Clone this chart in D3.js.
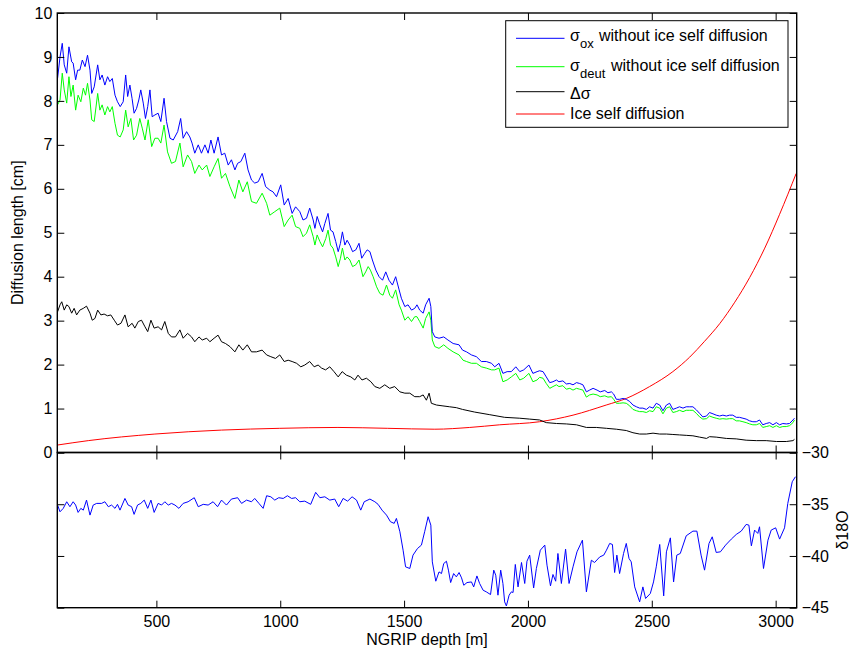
<!DOCTYPE html>
<html>
<head>
<meta charset="utf-8">
<script src="https://cdn.jsdelivr.net/npm/d3@7"></script>
<style>
  body { margin: 0; background: #fff; }
  svg text { font-family: "Liberation Sans", Arial, sans-serif; fill: #000; }
</style>
</head>
<body>
<div id="chart"></div>
<script>
// depth [m], value
const sigmaOx = [[101,8.51],[111,9.00],[120,9.31],[128,8.82],[138,8.63],[147,9.23],[158,8.89],[164,8.86],[174,8.48],[182,8.70],[191,8.70],[201,8.93],[212,8.78],[222,9.04],[232,8.70],[239,8.17],[249,8.32],[263,8.82],[272,8.48],[281,8.59],[292,8.36],[303,8.55],[312,8.44],[322,8.51],[333,8.13],[343,7.98],[354,7.87],[366,7.98],[376,8.59],[384,8.10],[393,8.36],[402,8.05],[410,7.72],[420,7.83],[429,8.02],[437,8.25],[447,7.95],[456,7.60],[465,7.87],[474,8.25],[483,7.64],[494,7.68],[507,7.72],[518,7.53],[531,8.06],[541,7.53],[555,7.15],[568,7.11],[586,7.30],[598,7.60],[608,7.15],[622,7.30],[635,7.18],[644,7.04],[655,6.81],[669,7.00],[682,6.81],[696,7.00],[709,6.81],[720,7.11],[733,6.81],[749,7.18],[763,6.77],[776,6.81],[790,6.54],[803,6.66],[817,6.43],[828,6.58],[841,6.62],[857,6.81],[870,6.43],[884,6.20],[897,6.13],[911,6.16],[927,6.35],[941,6.05],[958,5.97],[971,5.93],[985,5.82],[1002,6.09],[1016,5.63],[1032,5.78],[1048,5.44],[1062,5.59],[1079,5.48],[1092,5.29],[1106,5.33],[1119,5.56],[1133,5.29],[1140,5.10],[1149,5.37],[1160,5.18],[1171,5.02],[1180,5.21],[1193,5.44],[1203,5.06],[1213,5.02],[1224,4.80],[1234,4.57],[1243,4.76],[1251,5.02],[1261,4.72],[1270,4.83],[1281,4.72],[1292,4.57],[1305,4.61],[1318,4.76],[1329,4.42],[1341,4.53],[1351,4.61],[1362,4.57],[1372,4.38],[1386,4.15],[1399,4.00],[1413,3.92],[1426,4.11],[1439,3.92],[1453,3.81],[1466,4.00],[1480,3.70],[1489,3.51],[1503,3.32],[1516,3.36],[1530,3.24],[1543,3.28],[1552,3.36],[1563,3.24],[1577,3.17],[1587,3.36],[1601,3.51],[1608,3.32],[1614,2.75],[1624,2.63],[1641,2.60],[1660,2.63],[1677,2.56],[1698,2.48],[1722,2.45],[1736,2.33],[1752,2.29],[1772,2.22],[1792,2.18],[1812,2.07],[1832,2.07],[1853,2.03],[1866,1.95],[1883,2.03],[1899,1.80],[1916,1.84],[1933,1.84],[1951,1.95],[1967,1.84],[1983,1.88],[2004,1.99],[2020,1.80],[2037,1.84],[2047,1.86],[2061,1.84],[2074,1.72],[2088,1.59],[2101,1.61],[2115,1.65],[2125,1.61],[2141,1.63],[2155,1.56],[2169,1.57],[2182,1.54],[2196,1.59],[2209,1.57],[2222,1.54],[2236,1.38],[2249,1.42],[2263,1.46],[2279,1.42],[2292,1.38],[2310,1.41],[2323,1.36],[2337,1.38],[2346,1.33],[2357,1.21],[2370,1.21],[2384,1.23],[2397,1.21],[2411,1.16],[2424,1.08],[2438,1.04],[2451,1.01],[2464,1.01],[2478,0.98],[2491,1.04],[2505,1.01],[2518,1.12],[2532,1.08],[2545,0.95],[2559,1.08],[2572,1.12],[2585,0.98],[2599,1.01],[2612,1.04],[2626,1.01],[2639,1.04],[2653,1.04],[2666,1.04],[2680,0.97],[2693,0.89],[2706,0.81],[2721,0.83],[2733,0.91],[2747,0.88],[2760,0.85],[2774,0.83],[2787,0.85],[2801,0.83],[2814,0.85],[2827,0.85],[2841,0.80],[2854,0.80],[2868,0.78],[2881,0.76],[2895,0.72],[2908,0.70],[2922,0.70],[2935,0.74],[2948,0.63],[2962,0.66],[2976,0.68],[2989,0.63],[3003,0.68],[3016,0.63],[3029,0.66],[3043,0.65],[3056,0.66],[3070,0.74],[3076,0.78]];

const sigmaDeut = [[101,7.91],[111,8.02],[120,8.63],[128,8.25],[138,7.95],[147,8.55],[155,8.10],[164,8.36],[174,7.79],[184,8.13],[195,7.98],[205,8.29],[214,8.13],[222,8.40],[232,8.02],[239,7.57],[249,7.53],[263,8.17],[272,7.79],[281,7.91],[292,7.68],[303,7.87],[312,7.75],[322,7.87],[333,7.49],[343,7.22],[354,7.18],[366,7.34],[376,7.79],[386,7.41],[397,7.60],[408,7.11],[420,7.22],[433,7.60],[443,7.38],[454,7.11],[467,7.57],[481,6.96],[494,7.15],[507,7.15],[518,7.04],[531,7.45],[545,6.84],[561,6.58],[577,6.62],[595,7.04],[608,6.50],[626,6.77],[642,6.62],[655,6.35],[672,6.54],[685,6.43],[703,6.54],[716,6.28],[733,6.50],[749,6.69],[763,6.24],[779,6.35],[797,6.05],[817,5.78],[833,6.20],[849,5.93],[867,6.16],[884,5.71],[904,5.67],[927,5.90],[945,5.67],[958,5.40],[978,5.48],[998,5.56],[1016,5.14],[1032,5.29],[1048,5.40],[1062,5.14],[1079,5.10],[1092,4.91],[1106,4.99],[1119,5.18],[1133,4.91],[1140,4.72],[1149,4.95],[1160,4.80],[1171,4.68],[1184,4.87],[1193,5.06],[1203,4.72],[1213,4.65],[1224,4.45],[1234,4.23],[1243,4.42],[1251,4.65],[1261,4.38],[1270,4.45],[1281,4.38],[1292,4.23],[1305,4.27],[1318,4.38],[1334,4.00],[1345,4.11],[1355,4.23],[1364,4.15],[1375,4.00],[1389,3.77],[1402,3.62],[1415,3.58],[1429,3.81],[1442,3.58],[1453,3.51],[1466,3.70],[1480,3.36],[1489,3.24],[1503,3.01],[1516,3.09],[1530,2.98],[1543,3.09],[1552,3.09],[1563,2.98],[1577,2.83],[1587,3.05],[1601,3.20],[1608,3.01],[1614,2.56],[1624,2.41],[1641,2.37],[1660,2.45],[1677,2.37],[1698,2.29],[1722,2.22],[1738,2.10],[1752,2.07],[1772,2.03],[1792,2.03],[1812,1.95],[1832,1.92],[1853,1.88],[1866,1.88],[1883,1.92],[1899,1.61],[1916,1.65],[1933,1.72],[1951,1.80],[1967,1.65],[1983,1.69],[2004,1.80],[2020,1.61],[2037,1.65],[2047,1.71],[2061,1.69],[2074,1.57],[2088,1.46],[2101,1.50],[2115,1.54],[2125,1.50],[2141,1.52],[2155,1.44],[2169,1.46],[2182,1.42],[2196,1.46],[2209,1.44],[2222,1.42],[2236,1.26],[2249,1.31],[2263,1.33],[2279,1.31],[2292,1.27],[2310,1.29],[2323,1.26],[2337,1.27],[2346,1.21],[2357,1.12],[2370,1.12],[2384,1.13],[2397,1.12],[2411,1.06],[2424,0.98],[2438,0.95],[2451,0.93],[2464,0.93],[2478,0.91],[2491,0.95],[2505,0.93],[2518,1.04],[2532,1.01],[2545,0.88],[2559,1.01],[2572,1.04],[2585,0.91],[2599,0.93],[2612,0.96],[2626,0.93],[2639,0.96],[2653,0.96],[2666,0.96],[2680,0.89],[2693,0.81],[2706,0.76],[2721,0.77],[2733,0.83],[2747,0.80],[2760,0.78],[2774,0.76],[2787,0.77],[2801,0.76],[2814,0.77],[2827,0.77],[2841,0.72],[2854,0.72],[2868,0.70],[2881,0.68],[2895,0.65],[2908,0.63],[2922,0.63],[2935,0.66],[2948,0.57],[2962,0.59],[2976,0.61],[2989,0.57],[3003,0.61],[3016,0.57],[3029,0.59],[3043,0.59],[3056,0.61],[3070,0.68],[3076,0.74]];

const deltaSigma = [[101,3.20],[111,3.36],[118,3.43],[128,3.24],[138,3.36],[147,3.32],[158,3.17],[168,3.28],[178,3.13],[191,3.24],[205,3.28],[218,3.33],[232,3.17],[241,3.01],[252,3.05],[263,3.24],[276,3.13],[289,3.15],[303,3.11],[316,3.13],[330,3.01],[343,2.90],[357,2.94],[373,3.13],[386,2.86],[402,2.94],[413,2.83],[427,2.98],[440,3.01],[454,2.86],[465,2.75],[478,3.01],[491,2.83],[507,2.86],[521,2.79],[534,2.98],[548,2.71],[561,2.63],[577,2.63],[595,2.79],[608,2.60],[626,2.71],[642,2.63],[655,2.52],[672,2.63],[685,2.56],[703,2.60],[716,2.52],[733,2.60],[749,2.67],[763,2.52],[779,2.48],[797,2.41],[817,2.29],[833,2.45],[849,2.33],[867,2.45],[884,2.29],[904,2.29],[927,2.33],[945,2.22],[962,2.18],[981,2.14],[998,2.22],[1016,2.07],[1032,2.10],[1048,2.07],[1066,2.03],[1083,1.95],[1099,1.99],[1119,2.07],[1137,1.95],[1153,1.99],[1167,1.92],[1183,1.88],[1200,1.95],[1217,1.84],[1234,1.72],[1250,1.84],[1267,1.76],[1285,1.72],[1301,1.65],[1314,1.76],[1330,1.65],[1348,1.69],[1366,1.61],[1382,1.50],[1402,1.46],[1422,1.54],[1442,1.46],[1462,1.50],[1483,1.38],[1503,1.35],[1523,1.35],[1543,1.27],[1563,1.27],[1577,1.31],[1590,1.19],[1601,1.35],[1610,1.12],[1631,1.08],[1657,1.06],[1684,1.04],[1711,1.02],[1736,0.98],[1785,0.92],[1846,0.86],[1906,0.80],[1967,0.78],[2007,0.76],[2047,0.74],[2074,0.68],[2115,0.66],[2155,0.65],[2196,0.63],[2236,0.57],[2276,0.57],[2317,0.55],[2357,0.53],[2397,0.50],[2424,0.45],[2451,0.42],[2478,0.42],[2505,0.44],[2532,0.42],[2559,0.42],[2585,0.41],[2612,0.40],[2639,0.39],[2666,0.38],[2693,0.35],[2721,0.32],[2733,0.36],[2760,0.35],[2801,0.32],[2841,0.31],[2881,0.28],[2922,0.27],[2962,0.27],[3003,0.25],[3043,0.25],[3070,0.27],[3076,0.30]];

const iceSelf = [[101,0.17],[225,0.27],[494,0.42],[763,0.51],[998,0.55],[1233,0.57],[1434,0.55],[1624,0.53],[1765,0.57],[1886,0.63],[2047,0.70],[2182,0.85],[2316,1.08],[2397,1.23],[2491,1.50],[2585,1.84],[2653,2.17],[2713,2.53],[2774,2.93],[2835,3.42],[2895,3.98],[2956,4.65],[3016,5.42],[3083,6.35]];

const d18O = [[101,-35.08],[111,-35.73],[124,-35.40],[138,-34.76],[151,-35.24],[164,-34.76],[174,-35.08],[184,-35.79],[195,-35.40],[205,-35.57],[218,-34.60],[232,-36.05],[245,-35.08],[259,-34.92],[279,-34.92],[292,-34.76],[306,-35.24],[319,-35.08],[333,-35.40],[343,-35.01],[353,-35.57],[373,-34.44],[386,-35.08],[400,-35.24],[410,-35.98],[424,-35.08],[437,-34.92],[451,-34.60],[465,-35.40],[478,-34.60],[491,-35.79],[507,-34.92],[521,-35.08],[534,-34.76],[548,-35.08],[561,-34.92],[575,-35.08],[591,-35.40],[608,-34.92],[628,-34.76],[653,-34.37],[669,-35.24],[689,-35.01],[709,-35.08],[729,-34.76],[747,-35.24],[763,-34.60],[783,-35.08],[803,-34.50],[828,-34.37],[844,-34.92],[864,-34.60],[884,-34.76],[897,-34.44],[914,-34.92],[931,-35.40],[945,-34.18],[962,-34.28],[978,-34.60],[994,-34.37],[1012,-34.44],[1029,-34.18],[1046,-34.44],[1062,-34.37],[1079,-34.76],[1099,-34.70],[1123,-35.01],[1143,-33.85],[1160,-34.37],[1180,-34.28],[1200,-34.60],[1220,-34.50],[1236,-35.24],[1254,-34.44],[1272,-34.70],[1290,-34.28],[1308,-34.60],[1325,-35.57],[1339,-34.76],[1362,-34.50],[1382,-34.76],[1395,-35.01],[1411,-35.57],[1429,-36.05],[1445,-36.69],[1460,-36.85],[1469,-36.37],[1483,-37.66],[1496,-39.44],[1506,-41.05],[1523,-41.21],[1536,-39.92],[1554,-39.28],[1570,-38.95],[1583,-37.66],[1597,-36.21],[1608,-37.02],[1614,-40.57],[1628,-42.44],[1641,-41.54],[1651,-41.70],[1660,-40.73],[1671,-40.51],[1679,-41.37],[1688,-42.57],[1700,-41.70],[1711,-42.02],[1722,-41.60],[1732,-42.12],[1741,-42.83],[1754,-42.57],[1772,-42.51],[1781,-42.99],[1794,-41.93],[1805,-42.66],[1819,-43.31],[1832,-43.47],[1849,-43.73],[1862,-41.37],[1870,-41.86],[1879,-43.79],[1890,-41.37],[1899,-42.66],[1906,-44.44],[1913,-44.83],[1924,-43.79],[1933,-43.47],[1940,-43.53],[1949,-40.82],[1960,-42.99],[1974,-40.63],[1987,-42.66],[1996,-40.51],[2007,-39.92],[2023,-43.09],[2034,-41.21],[2050,-39.44],[2068,-38.95],[2077,-40.89],[2091,-42.89],[2101,-41.79],[2112,-42.44],[2121,-39.76],[2135,-42.66],[2152,-39.34],[2166,-42.66],[2182,-41.05],[2198,-39.60],[2220,-38.47],[2236,-43.47],[2256,-40.41],[2269,-40.63],[2290,-40.09],[2306,-39.92],[2317,-39.44],[2330,-38.79],[2341,-38.89],[2350,-41.60],[2359,-39.92],[2370,-41.70],[2386,-39.76],[2397,-38.79],[2408,-40.24],[2417,-40.57],[2431,-42.99],[2451,-44.44],[2464,-42.99],[2475,-44.11],[2494,-43.63],[2507,-42.51],[2518,-41.05],[2532,-38.89],[2548,-43.86],[2559,-39.60],[2575,-38.25],[2588,-42.51],[2601,-39.92],[2615,-39.76],[2639,-38.05],[2666,-37.60],[2682,-37.60],[2699,-39.92],[2713,-41.37],[2731,-38.79],[2744,-38.15],[2760,-39.66],[2777,-39.60],[2798,-38.95],[2821,-38.37],[2841,-37.92],[2861,-37.60],[2881,-36.95],[2892,-37.02],[2902,-39.02],[2915,-37.50],[2928,-37.82],[2935,-37.18],[2951,-41.21],[2969,-38.47],[2982,-37.50],[3000,-37.28],[3016,-38.37],[3036,-37.28],[3049,-34.92],[3067,-32.83],[3080,-32.34]];

const depthTicks = [500, 1000, 1500, 2000, 2500, 3000];
const sigmaTicks = [0, 1, 2, 3, 4, 5, 6, 7, 8, 9, 10];
const d18OTicks = [-45, -40, -35, -30];

const legendItems = [
  { color: "#0000ff", sym: "σ", sub: "ox", text: "without ice self diffusion" },
  { color: "#00ff00", sym: "σ", sub: "deut", text: "without ice self diffusion" },
  { color: "#000000", sym: "Δσ", sub: "", text: "" },
  { color: "#ff0000", sym: "Ice self diffusion", sub: "", text: "" }
];

let w = 853;
let h = 655;
let left = 57.3, right = 796.7;
let topY = 13, midY = 452.5, botY = 607.7;
let fmt = d3.format("d");

let svg = d3.select("#chart").append("svg")
  .attr("width", w)
  .attr("height", h);

svg.append("rect").attr("width", w).attr("height", h).attr("fill", "#fff");

let x = d3.scaleLinear().domain([100, 3085]).range([left, right]);
let yTop = d3.scaleLinear().domain([0, 10]).range([midY, topY]);
let yBot = d3.scaleLinear().domain([-45, -30]).range([botY, midY]);

let defs = svg.append("defs");
defs.append("clipPath").attr("id", "clipTop").append("rect")
  .attr("x", left).attr("y", topY).attr("width", right - left).attr("height", midY - topY);
defs.append("clipPath").attr("id", "clipBot").append("rect")
  .attr("x", left).attr("y", midY).attr("width", right - left).attr("height", botY - midY);

let lineTop = d3.line().x(d => x(d[0])).y(d => yTop(d[1]));
let lineBot = d3.line().x(d => x(d[0])).y(d => yBot(d[1]));

let gTop = svg.append("g").attr("clip-path", "url(#clipTop)");
gTop.append("path").datum(iceSelf)
  .attr("d", lineTop.curve(d3.curveMonotoneX)).attr("fill", "none").attr("stroke", "#ff0000").attr("stroke-width", 1);
lineTop.curve(d3.curveLinear);
gTop.append("path").datum(deltaSigma)
  .attr("d", lineTop).attr("fill", "none").attr("stroke", "#000").attr("stroke-width", 1);
gTop.append("path").datum(sigmaDeut)
  .attr("d", lineTop).attr("fill", "none").attr("stroke", "#00ff00").attr("stroke-width", 1);
gTop.append("path").datum(sigmaOx)
  .attr("d", lineTop).attr("fill", "none").attr("stroke", "#0000ff").attr("stroke-width", 1);

svg.append("g").attr("clip-path", "url(#clipBot)")
  .append("path").datum(d18O)
  .attr("d", lineBot).attr("fill", "none").attr("stroke", "#0000ff").attr("stroke-width", 1);

function styleAxis(g) {
  g.select(".domain").remove();
  g.selectAll(".tick line").attr("stroke", "#000").attr("stroke-width", 1);
  g.selectAll(".tick text").attr("font-size", 16).attr("font-family", "Liberation Sans, Arial, sans-serif");
}

// top panel axes
svg.append("g").attr("transform", `translate(${left},0)`)
  .call(d3.axisLeft(yTop).tickValues(sigmaTicks).tickFormat(fmt).tickSizeInner(-7).tickSizeOuter(0).tickPadding(5))
  .call(styleAxis);
svg.append("g").attr("transform", `translate(${right},0)`)
  .call(d3.axisRight(yTop).tickValues(sigmaTicks).tickSizeInner(-7).tickSizeOuter(0).tickFormat(""))
  .call(styleAxis);
svg.append("g").attr("transform", `translate(0,${topY})`)
  .call(d3.axisTop(x).tickValues(depthTicks).tickSizeInner(-7).tickSizeOuter(0).tickFormat(""))
  .call(styleAxis);
svg.append("g").attr("transform", `translate(0,${midY})`)
  .call(d3.axisBottom(x).tickValues(depthTicks).tickSizeInner(-7).tickSizeOuter(0).tickFormat(""))
  .call(styleAxis);

// bottom panel axes
svg.append("g").attr("transform", `translate(0,${midY})`)
  .call(d3.axisTop(x).tickValues(depthTicks).tickSizeInner(-7).tickSizeOuter(0).tickFormat(""))
  .call(styleAxis);
svg.append("g").attr("transform", `translate(0,${botY})`)
  .call(d3.axisBottom(x).tickValues(depthTicks).tickFormat(fmt).tickSizeInner(-7).tickSizeOuter(0).tickPadding(8))
  .call(styleAxis);
svg.append("g").attr("transform", `translate(${left},0)`)
  .call(d3.axisLeft(yBot).tickValues(d18OTicks).tickSizeInner(-7).tickSizeOuter(0).tickFormat(""))
  .call(styleAxis);
svg.append("g").attr("transform", `translate(${right},0)`)
  .call(d3.axisRight(yBot).tickValues(d18OTicks).tickFormat(fmt).tickSizeInner(-7).tickSizeOuter(0).tickPadding(5))
  .call(styleAxis);

// boxes
svg.append("rect").attr("x", left).attr("y", topY).attr("width", right - left).attr("height", midY - topY)
  .attr("fill", "none").attr("stroke", "#000").attr("stroke-width", 1.4);
svg.append("rect").attr("x", left).attr("y", midY).attr("width", right - left).attr("height", botY - midY)
  .attr("fill", "none").attr("stroke", "#000").attr("stroke-width", 1.4);

// axis labels
svg.append("text")
  .attr("transform", `translate(23,${(topY + midY) / 2}) rotate(-90)`)
  .attr("text-anchor", "middle").attr("font-size", 16)
  .text("Diffusion length [cm]");
svg.append("text")
  .attr("x", (left + right) / 2).attr("y", 645)
  .attr("text-anchor", "middle").attr("font-size", 16)
  .text("NGRIP depth [m]");
svg.append("text")
  .attr("transform", `translate(848,${(midY + botY) / 2}) rotate(-90)`)
  .attr("text-anchor", "middle").attr("font-size", 16)
  .text("δ18O");

// legend
let legend = svg.append("g");
legend.append("rect")
  .attr("x", 505.7).attr("y", 20.7).attr("width", 282.3).attr("height", 106.6)
  .attr("fill", "#fff").attr("stroke", "#000").attr("stroke-width", 1);

let rowY = [38.3, 66.7, 91.7, 114];
let baseY = [41, 70.5, 99, 119];
let textX = [599, 611, 0, 0];
legendItems.forEach(function (item, i) {
  legend.append("line")
    .attr("x1", 516).attr("x2", 564.5)
    .attr("y1", rowY[i]).attr("y2", rowY[i])
    .attr("stroke", item.color).attr("stroke-width", 1);
  legend.append("text").attr("x", 570).attr("y", baseY[i]).attr("font-size", 16).text(item.sym);
  if (item.sub) {
    legend.append("text").attr("x", 580).attr("y", baseY[i] + 7.3).attr("font-size", 13).text(item.sub);
    legend.append("text").attr("x", textX[i]).attr("y", baseY[i]).attr("font-size", 16).text(item.text);
  }
});
</script>
</body>
</html>
